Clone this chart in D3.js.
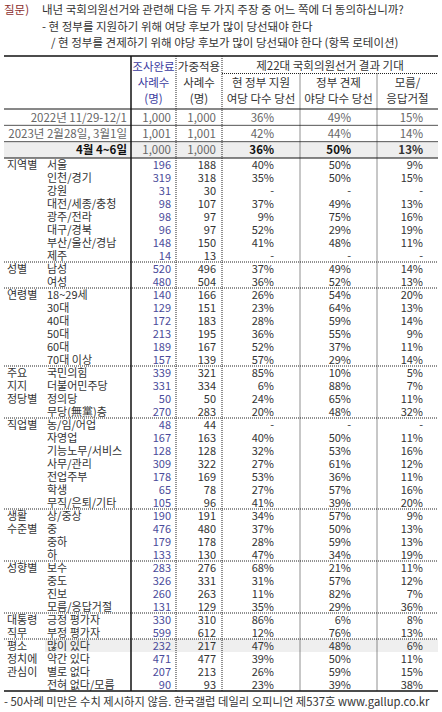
<!DOCTYPE html>
<html><head><meta charset="utf-8">
<script src="https://cdn.jsdelivr.net/npm/d3@7"></script>
<style>body{margin:0;background:#fff}text{font-family:"Noto Sans CJK KR","Noto Sans",sans-serif}</style>
</head><body><svg id="c" width="442" height="712"></svg>
<script>
// 추이 행
var trendLabels = ["2022년 11/29-12/1", "2023년 2월28일, 3월1일", "4월 4~6일"];
var trendN1 = [1000, 1001, 1000];
var trendN2 = [1000, 1001, 1000];
var trendGov = [36, 42, 36];
var trendOpp = [49, 44, 50];
var trendDk = [15, 14, 13];

// 응답자 특성별
var groupNames = [["지역별"], ["성별"], ["연령별"], ["주요", "지지", "정당별"], ["직업별"], ["생활", "수준별"], ["성향별"], ["대통령", "직무"], ["평소", "정치에", "관심이"]];
var groupSizes = [8, 2, 6, 4, 7, 4, 4, 2, 4];
var rowLabels = ["서울", "인천/경기", "강원", "대전/세종/충청", "광주/전라", "대구/경북", "부산/울산/경남", "제주",
  "남성", "여성",
  "18~29세", "30대", "40대", "50대", "60대", "70대 이상",
  "국민의힘", "더불어민주당", "정의당", "무당(無黨)층",
  "농/임/어업", "자영업", "기능노무/서비스", "사무/관리", "전업주부", "학생", "무직/은퇴/기타",
  "상/중상", "중", "중하", "하",
  "보수", "중도", "진보", "모름/응답거절",
  "긍정 평가자", "부정 평가자",
  "많이 있다", "약간 있다", "별로 없다", "전혀 없다/모름"];
var rowN1 = [196, 319, 31, 98, 98, 96, 148, 14, 520, 480, 140, 129, 172, 213, 189, 157, 339, 331, 50, 270, 48, 167, 128, 309, 178, 65, 105, 190, 476, 179, 133, 283, 326, 260, 131, 330, 599, 232, 471, 207, 90];
var rowN2 = [188, 318, 30, 107, 97, 97, 150, 13, 496, 504, 166, 151, 183, 195, 167, 139, 321, 334, 50, 283, 44, 163, 128, 322, 169, 78, 96, 191, 480, 178, 130, 276, 331, 263, 129, 310, 612, 217, 477, 213, 93];
var rowGov = [40, 35, null, 37, 9, 52, 41, null, 37, 36, 26, 23, 28, 36, 52, 57, 85, 6, 24, 20, null, 40, 32, 27, 53, 27, 41, 34, 37, 28, 47, 68, 31, 11, 35, 86, 12, 47, 39, 26, 23];
var rowOpp = [50, 50, null, 49, 75, 29, 48, null, 49, 52, 54, 64, 59, 55, 37, 29, 10, 88, 65, 48, null, 50, 53, 61, 36, 57, 39, 57, 50, 59, 34, 21, 57, 82, 29, 6, 76, 48, 50, 59, 39];
var rowDk = [9, 15, null, 13, 16, 19, 11, null, 14, 13, 20, 13, 14, 9, 11, 14, 5, 7, 11, 32, null, 11, 16, 12, 11, 16, 20, 9, 13, 13, 19, 11, 12, 7, 36, 8, 13, 6, 11, 15, 38];

var svg = d3.select("#c");
var L = 4, R = 438, divX = 131;
var colEdges = [131, 176, 222, 300, 377, 438];
var numRight = [171, 216, 274, 351, 423];
var txt = "#333";
var fs = 11;

// 질문
svg.append("text").attr("x", 4).attr("y", 14).attr("font-size", 11.5).attr("fill", "#8b2e2e").text("질문)");
[["내년 국회의원선거와 관련해 다음 두 가지 주장 중 어느 쪽에 더 동의하십니까?", 42],
 ["- 현 정부를 지원하기 위해 여당 후보가 많이 당선돼야 한다", 42],
 ["/ 현 정부를 견제하기 위해 야당 후보가 많이 당선돼야 한다 (항목 로테이션)", 51]].forEach(function(d, i) {
  svg.append("text").attr("x", d[1]).attr("y", 14 + i * 16.5).attr("font-size", 11.5).attr("fill", txt).text(d[0]);
});

// 헤더
var hTop = 56, hBot = 109;
function ctext(x, y, s, col, bold) {
  svg.append("text").attr("x", x).attr("y", y).attr("text-anchor", "middle").attr("font-size", 11.5)
    .attr("fill", col || txt).attr("font-weight", bold ? "bold" : null).text(s);
}
ctext(153.5, 71, "조사완료", "#3b3ba0"); ctext(153.5, 87, "사례수", "#3b3ba0"); ctext(153.5, 103, "(명)", "#3b3ba0");
ctext(199, 71, "가중적용"); ctext(199, 87, "사례수"); ctext(199, 103, "(명)");
ctext(330, 70, "제22대 국회의원선거 결과 기대");
ctext(261, 87, "현 정부 지원"); ctext(261, 103, "여당 다수 당선");
ctext(338.5, 87, "정부 견제"); ctext(338.5, 103, "야당 다수 당선");
ctext(407.5, 87, "모름/"); ctext(407.5, 103, "응답거절");

// 추이 행
var ty = d3.scaleBand().domain(d3.range(3)).range([hBot, 158]);
svg.append("rect").attr("x", L).attr("y", ty(2)).attr("width", R - L).attr("height", ty.bandwidth()).attr("fill", "#eeeeee");
var pct = function(v) { return v == null ? "-" : v + "%"; };
var fmt = d3.format(",");
function rowText(y, vals, cols, bold, size) {
  vals.forEach(function(v, j) {
    svg.append("text").attr("x", numRight[j]).attr("y", y).attr("text-anchor", "end").attr("font-size", size || fs)
      .attr("fill", cols[j]).attr("font-weight", bold && j > 1 ? "bold" : null).text(v);
  });
}
d3.range(3).forEach(function(i) {
  var y = ty(i) + ty.bandwidth() / 2 + 4.5;
  var b = i === 2;
  svg.append("text").attr("x", 127).attr("y", y).attr("text-anchor", "end").attr("font-size", 11.5)
    .attr("fill", b ? "#111" : "#666").attr("font-weight", b ? "bold" : null).text(trendLabels[i]);
  rowText(y, [fmt(trendN1[i]), fmt(trendN2[i]), pct(trendGov[i]), pct(trendOpp[i]), pct(trendDk[i])],
    b ? ["#666", "#666", "#111", "#111", "#333"] : ["#666", "#666", "#666", "#666", "#666"], b, 11.5);
});

// 본문 행
var y = d3.scaleBand().domain(d3.range(rowLabels.length)).range([158, 691]);
var hi = rowLabels.indexOf("많이 있다");
svg.append("rect").attr("x", 45).attr("y", y(hi)).attr("width", R - 45).attr("height", y.bandwidth()).attr("fill", "#efefef");
rowLabels.forEach(function(lab, i) {
  var yy = y(i) + y.bandwidth() / 2 + 4;
  svg.append("text").attr("x", 47).attr("y", yy).attr("font-size", fs).attr("fill", txt).text(lab);
  rowText(yy, [rowN1[i], rowN2[i], pct(rowGov[i]), pct(rowOpp[i]), pct(rowDk[i])], ["#4a4a9a", txt, txt, txt, txt]);
});
var start = 0;
groupNames.forEach(function(g, k) {
  g.forEach(function(s, m) {
    svg.append("text").attr("x", 7).attr("y", y(start + m) + y.bandwidth() / 2 + 4).attr("font-size", fs).attr("fill", txt).text(s);
  });
  if (k > 0) {
    svg.append("line").attr("x1", L).attr("x2", R).attr("y1", y(start)).attr("y2", y(start))
      .attr("stroke", "#222").attr("stroke-dasharray", "1,1");
  }
  start += groupSizes[k];
});

// 선
function hl(y0, x1, x2, dash, c, w) {
  svg.append("line").attr("x1", x1).attr("x2", x2).attr("y1", y0).attr("y2", y0).attr("stroke", c || "#222")
    .attr("stroke-width", w || 1).attr("stroke-dasharray", dash || null);
}
hl(hTop, L, R, null, "#111", 1.5);
hl(73.5, 222, R, "1,1");
hl(hBot, L, R, null, "#111");
hl(ty(1), L, R, null, "#555"); hl(ty(2), L, R, null, "#555");
hl(158, L, R, null, "#111");
hl(691, L, R, null, "#111", 1.5);
svg.append("line").attr("x1", divX).attr("x2", divX).attr("y1", hTop).attr("y2", 691).attr("stroke", "#111").attr("stroke-width", 1.5);
colEdges.slice(1, 5).forEach(function(x) {
  svg.append("line").attr("x1", x).attr("x2", x).attr("y1", x === 176 || x === 222 ? hTop : 73.5).attr("y2", 691)
    .attr("stroke", "#222").attr("stroke-dasharray", "1,1");
});

svg.append("text").attr("x", 4).attr("y", 706).attr("font-size", 11.3).attr("fill", txt)
  .text("- 50사례 미만은 수치 제시하지 않음. 한국갤럽 데일리 오피니언 제537호 www.gallup.co.kr");
</script></body></html>
